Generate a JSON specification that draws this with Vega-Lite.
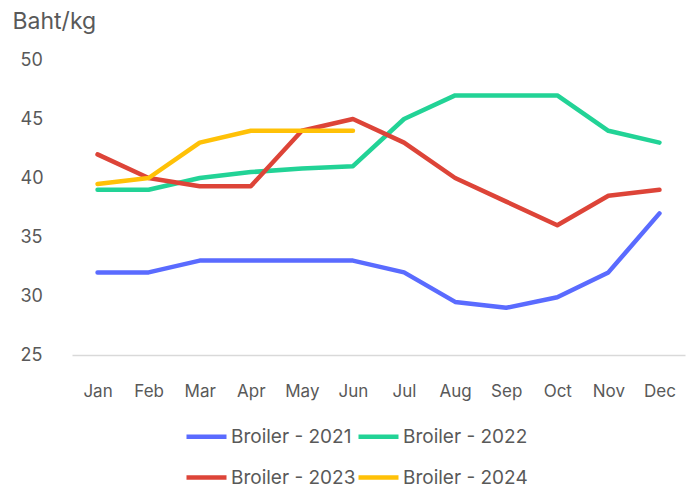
{
  "$schema": "https://vega.github.io/schema/vega-lite/v6.json",
  "width": 613,
  "height": 295,
  "autosize": {"type": "none"},
  "padding": {"left": 72, "top": 60, "right": 10, "bottom": 132},
  "background": "white",
  "config": {"view": {"stroke": null}, "font": "Inter"},
  "data": {
    "values": [
      {"m": "Jan", "s": "Broiler - 2021", "v": 32},
      {"m": "Feb", "s": "Broiler - 2021", "v": 32},
      {"m": "Mar", "s": "Broiler - 2021", "v": 33},
      {"m": "Apr", "s": "Broiler - 2021", "v": 33},
      {"m": "May", "s": "Broiler - 2021", "v": 33},
      {"m": "Jun", "s": "Broiler - 2021", "v": 33},
      {"m": "Jul", "s": "Broiler - 2021", "v": 32},
      {"m": "Aug", "s": "Broiler - 2021", "v": 29.5},
      {"m": "Sep", "s": "Broiler - 2021", "v": 29},
      {"m": "Oct", "s": "Broiler - 2021", "v": 29.9},
      {"m": "Nov", "s": "Broiler - 2021", "v": 32},
      {"m": "Dec", "s": "Broiler - 2021", "v": 37},
      {"m": "Jan", "s": "Broiler - 2022", "v": 39},
      {"m": "Feb", "s": "Broiler - 2022", "v": 39},
      {"m": "Mar", "s": "Broiler - 2022", "v": 40},
      {"m": "Apr", "s": "Broiler - 2022", "v": 40.5},
      {"m": "May", "s": "Broiler - 2022", "v": 40.8},
      {"m": "Jun", "s": "Broiler - 2022", "v": 41},
      {"m": "Jul", "s": "Broiler - 2022", "v": 45},
      {"m": "Aug", "s": "Broiler - 2022", "v": 47},
      {"m": "Sep", "s": "Broiler - 2022", "v": 47},
      {"m": "Oct", "s": "Broiler - 2022", "v": 47},
      {"m": "Nov", "s": "Broiler - 2022", "v": 44},
      {"m": "Dec", "s": "Broiler - 2022", "v": 43},
      {"m": "Jan", "s": "Broiler - 2023", "v": 42},
      {"m": "Feb", "s": "Broiler - 2023", "v": 40},
      {"m": "Mar", "s": "Broiler - 2023", "v": 39.3},
      {"m": "Apr", "s": "Broiler - 2023", "v": 39.3},
      {"m": "May", "s": "Broiler - 2023", "v": 44},
      {"m": "Jun", "s": "Broiler - 2023", "v": 45},
      {"m": "Jul", "s": "Broiler - 2023", "v": 43},
      {"m": "Aug", "s": "Broiler - 2023", "v": 40},
      {"m": "Sep", "s": "Broiler - 2023", "v": 38},
      {"m": "Oct", "s": "Broiler - 2023", "v": 36},
      {"m": "Nov", "s": "Broiler - 2023", "v": 38.5},
      {"m": "Dec", "s": "Broiler - 2023", "v": 39},
      {"m": "Jan", "s": "Broiler - 2024", "v": 39.5},
      {"m": "Feb", "s": "Broiler - 2024", "v": 40},
      {"m": "Mar", "s": "Broiler - 2024", "v": 43},
      {"m": "Apr", "s": "Broiler - 2024", "v": 44},
      {"m": "May", "s": "Broiler - 2024", "v": 44},
      {"m": "Jun", "s": "Broiler - 2024", "v": 44}
    ]
  },
  "mark": {"type": "line", "strokeWidth": 4.5, "strokeJoin": "round", "strokeCap": "round"},
  "encoding": {
    "x": {
      "field": "m", "type": "ordinal",
      "sort": ["Jan","Feb","Mar","Apr","May","Jun","Jul","Aug","Sep","Oct","Nov","Dec"],
      "scale": {"paddingInner": 0, "paddingOuter": 0.5},
      "axis": {
        "title": null, "labelAngle": 0, "ticks": false, "grid": false,
        "domainColor": "#d9d9d9", "domainWidth": 1.5,
        "labelFontSize": 17, "labelColor": "#595959", "labelPadding": 28
      }
    },
    "y": {
      "field": "v", "type": "quantitative",
      "scale": {"domain": [25, 50], "nice": false, "zero": false},
      "axis": {
        "values": [25, 30, 35, 40, 45, 50], "grid": false, "domain": false, "ticks": false,
        "labelAlign": "left", "labelPadding": 52, "labelFontSize": 18, "labelColor": "#595959",
        "title": "Baht/kg", "titleAngle": 0, "titleAlign": "left", "titleBaseline": "middle",
        "titleX": -60, "titleY": -39, "titleFontSize": 23, "titleFontWeight": "normal", "titleColor": "#595959"
      }
    },
    "color": {
      "field": "s", "type": "nominal",
      "scale": {
        "domain": ["Broiler - 2021", "Broiler - 2022", "Broiler - 2023", "Broiler - 2024"],
        "range": ["#5A6BFF", "#22D396", "#DD4438", "#FFC107"]
      },
      "legend": {
        "title": null, "orient": "none", "legendX": 112, "legendY": 354,
        "direction": "horizontal",
        "columns": 2, "columnPadding": -36, "rowPadding": 8,
        "symbolType": "stroke", "symbolSize": 1600, "symbolStrokeWidth": 4.5,
        "labelFontSize": 19, "labelColor": "#595959", "labelOffset": 2
      }
    }
  }
}
